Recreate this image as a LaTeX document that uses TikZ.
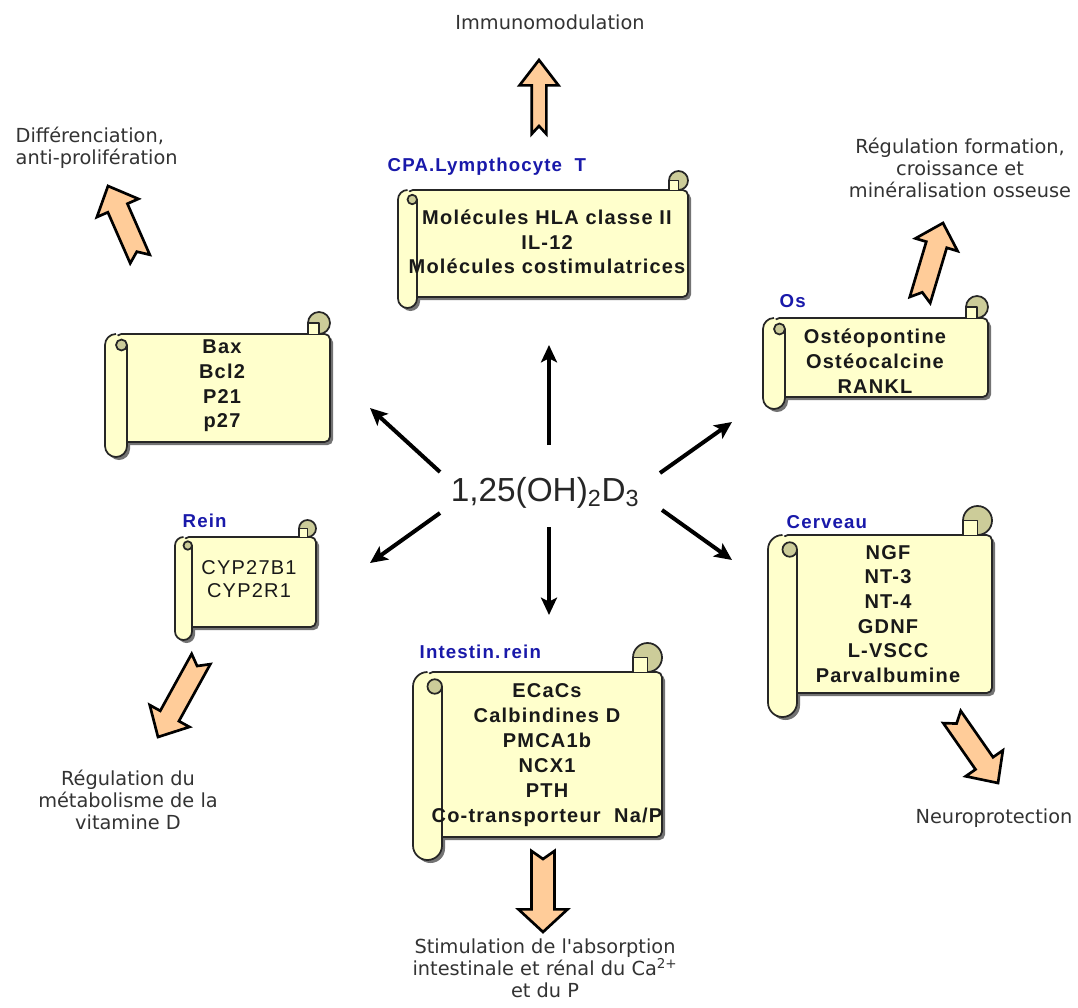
\documentclass[tikz,border=0pt]{standalone}
\usepackage{fontspec}
\setmainfont{Liberation Sans}
\newfontfamily\outfont{DejaVu Sans}
\newfontfamily\boxfont[LetterSpace=6]{Liberation Sans}
\usetikzlibrary{calc,arrows.meta}
\definecolor{scrollfill}{RGB}{255,255,204}
\definecolor{scrolldark}{RGB}{204,204,153}
\definecolor{arrowfill}{RGB}{255,204,153}
\definecolor{lblblue}{RGB}{25,25,170}
\tikzset{
  scrollline/.style={draw=black!85, line width=1.3pt, line join=round},
  scrollshadow/.style={fill=black!55},
  boxtext/.style={font=\boxfont\bfseries\fontsize{15}{18.5}\selectfont, align=center, text=black!90},
  boxtextreg/.style={font=\boxfont\fontsize{15}{17.5}\selectfont, align=center, text=black!90},
  lbl/.style={font=\boxfont\bfseries\fontsize{14}{16}\selectfont, text=lblblue, anchor=west},
  outtxt/.style={font=\outfont\fontsize{14.5}{16.5}\selectfont, text=black!80, align=center},
  barrow/.style={fill=arrowfill, draw=black, line width=2pt, line join=miter},
  thinarrow/.style={draw=black, line width=3pt, -{Stealth[length=13pt,width=12pt,inset=3pt]}},
}
% scroll: L T R B r Bext   (pixel units)
\newcommand\scroll[6]{%
  \pgfmathsetmacro\rr{#5*0.75}%
  \pgfmathsetmacro\rh{#5*0.375}%
  \pgfmathsetmacro\xa{#1+#5}\pgfmathsetmacro\xb{#1+2*#5}%
  \pgfmathsetmacro\xc{#3-#5}\pgfmathsetmacro\xd{#3-2*#5}%
  \pgfmathsetmacro\xe{#1+1.5*#5}%
  \pgfmathsetmacro\ya{#2-#5}\pgfmathsetmacro\yb{#2+#5}%
  \fill[scrollshadow, rounded corners=4pt] (\xa+3,#2+3) rectangle (#3+3,#4+3);
  \fill[scrollshadow, rounded corners=\rr pt] (#1+3,\yb) rectangle (\xb+3,#6+3);
  \draw[scrollline, fill=scrollfill, rounded corners=4pt] (\xa,#2) rectangle (#3,#4);
  \draw[scrollline, fill=scrolldark] (\xc,\ya) circle[radius=\rr pt];
  \draw[scrollline, fill=scrollfill] (\xd,#2) -- (\xd,\ya) -- (\xc,\ya) -- (\xc,#2);
  \draw[scrollline, fill=scrollfill, rounded corners=\rr pt] (\xb,\yb) -- (\xb,#6) -- (#1,#6) -- (#1,#2) -- (\xa,#2);
  \draw[scrollline, fill=scrolldark] (\xe,\yb) circle[radius=\rh pt];
}
% block arrow: tail, tip, half shaft, half head, head length, notch
\newcommand\blockarrow[6]{%
  \coordinate (#1n) at ($(#2)!#5!(#1)$);
  \draw[barrow] ($(#1)!#3!90:(#2)$) -- ($(#1n)!#3!90:(#2)$) -- ($(#1n)!#4!90:(#2)$) -- (#2)
    -- ($(#1n)!#4!-90:(#2)$) -- ($(#1n)!#3!-90:(#2)$) -- ($(#1)!#3!-90:(#2)$) -- ($(#1)!#6!(#2)$) -- cycle;
}
\begin{document}
\begin{tikzpicture}[x=0.75pt,y=-0.75pt]
\useasboundingbox (0,0) rectangle (1078,1007);
\fill[white] (0,0) rectangle (1078,1007);

% ---------- scrolls ----------
\scroll{398}{190}{688}{297}{9.5}{308}
\scroll{105}{334}{330}{442}{11}{457}
\scroll{175}{537}{316}{627}{8.5}{640}
\scroll{413}{672}{662}{837}{14.5}{860}
\scroll{768}{535}{992}{693}{14.5}{717}
\scroll{763}{318}{988}{397}{11}{409}

\node[boxtext] (cpa) at (547,242) {Molécules HLA classe II\\IL-12\\Molécules costimulatrices};
\node[boxtext] (bax) at (222,386) {Bax\\Bcl2\\P21\\p27};
\node[boxtextreg] (rein) at (249,579) {CYP27B1\\CYP2R1};
\node[boxtext] (os) at (875,361) {Ostéopontine\\Ostéocalcine\\RANKL};
\node[boxtext, font=\boxfont\bfseries\fontsize{15}{18.75}\selectfont] (int) at (547,755) {ECaCs\\Calbindines D\\PMCA1b\\NCX1\\PTH\\Co-transporteur\ \ Na/P};
\node[boxtext] (cer) at (888,614) {NGF\\NT-3\\NT-4\\GDNF\\L-VSCC\\Parvalbumine};

\node[lbl] (lcpa) at (383,167) {CPA.Lympthocyte\ \ T};
\node[lbl] (lrein) at (178,521) {Rein};
\node[lbl] (lint) at (415,652) {Intestin.\,rein};
\node[lbl] (lcer) at (782,522) {Cerveau};
\node[lbl] (los) at (775,301) {Os};

% ---------- centre ----------
\node[text=black!85, font=\fontsize{25}{29}\selectfont] (c) at (545,493) {1,25(OH)\textsubscript{2}D\textsubscript{3}};

\coordinate (aus) at (549,445); \coordinate (aue) at (549,345);
\coordinate (ads) at (549,527); \coordinate (ade) at (549,615);
\coordinate (auls) at (440,472); \coordinate (aule) at (370,408);
\coordinate (alls) at (440,513); \coordinate (alle) at (370,563);
\coordinate (aurs) at (660,473); \coordinate (aure) at (732,422);
\coordinate (alrs) at (662,510); \coordinate (alre) at (732,560);
\draw[thinarrow] (aus) -- (aue);
\draw[thinarrow] (ads) -- (ade);
\draw[thinarrow] (auls) -- (aule);
\draw[thinarrow] (alls) -- (alle);
\draw[thinarrow] (aurs) -- (aure);
\draw[thinarrow] (alrs) -- (alre);

% ---------- block arrows ----------
\coordinate (b1t) at (539,134); \coordinate (b1h) at (539,60);
\coordinate (b2t) at (543,851); \coordinate (b2h) at (543,932);
\coordinate (b3t) at (140,259); \coordinate (b3h) at (108,186);
\coordinate (b4t) at (920,300); \coordinate (b4h) at (943,223);
\coordinate (b5t) at (201,659); \coordinate (b5h) at (158,737);
\coordinate (b6t) at (952,717); \coordinate (b6h) at (998,783);
\blockarrow{b1t}{b1h}{5.5pt}{14.6pt}{19pt}{6pt}
\blockarrow{b2t}{b2h}{8.6pt}{18.4pt}{17pt}{6pt}
\blockarrow{b3t}{b3h}{8pt}{17pt}{18pt}{6pt}
\blockarrow{b4t}{b4h}{8pt}{16.5pt}{17pt}{6pt}
\blockarrow{b5t}{b5h}{8pt}{17pt}{18pt}{6pt}
\blockarrow{b6t}{b6h}{8pt}{17pt}{18pt}{6pt}

% ---------- outcome texts ----------
\node[outtxt] (oim) at (550,22) {Immunomodulation};
\node[outtxt, align=left, anchor=west] (odif) at (11,148) {Différenciation,\\anti-prolifération};
\node[outtxt] (oos) at (960,168) {Régulation formation,\\croissance et\\minéralisation osseuse};
\node[outtxt] (orein) at (128,800) {Régulation du\\métabolisme de la\\vitamine D};
\node[outtxt] (oneu) at (994,818) {Neuroprotection};
\node[outtxt] (ostim) at (545,968) {Stimulation de l'absorption\\intestinale et rénal du Ca\textsuperscript{2+}\\et du P};
\end{tikzpicture}
\end{document}
